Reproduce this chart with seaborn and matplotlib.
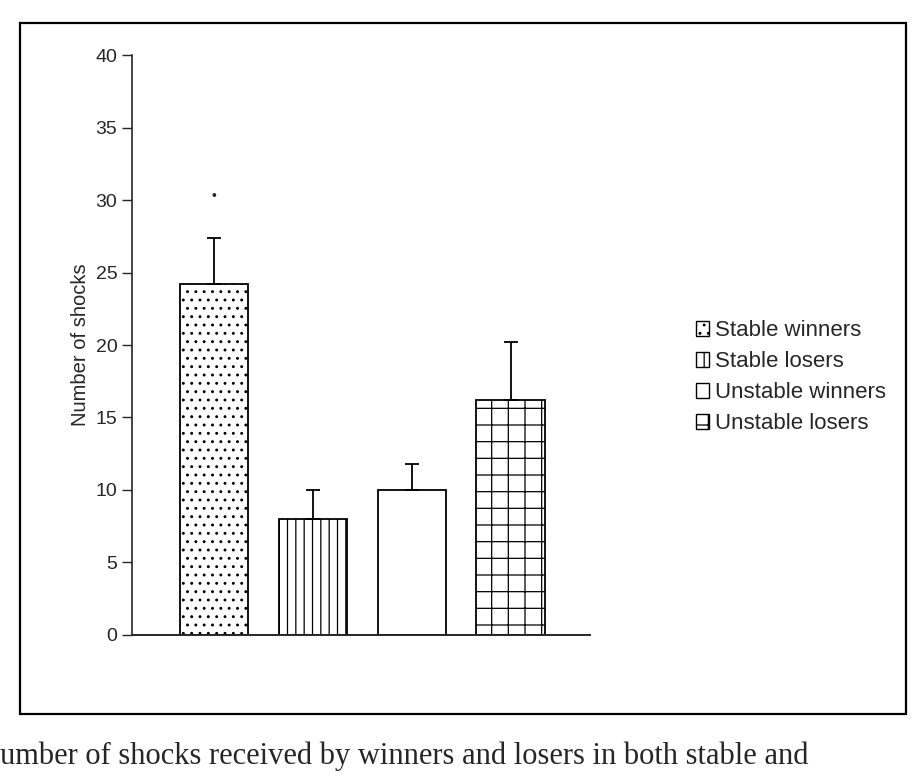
import matplotlib
matplotlib.use("Agg")
import matplotlib.pyplot as plt
from matplotlib.patches import Patch, Rectangle
import seaborn as sns
import pandas as pd

# values
groups = ["Stable winners", "Stable losers", "Unstable winners", "Unstable losers"]
shocks = [24.2, 8.0, 10.0, 16.2]
sem = [3.2, 2.0, 1.8, 4.0]
hatches = ["..", "||", "", "+"]
yticks = [0, 5, 10, 15, 20, 25, 30, 35, 40]
caption = "umber of shocks received by winners and losers in both stable and"

df = pd.DataFrame({"group": groups, "shocks": shocks})

sns.set_style("ticks")
plt.rcParams["font.family"] = ["Liberation Sans", "DejaVu Sans"]
plt.rcParams["hatch.linewidth"] = 0.9

fig = plt.figure(figsize=(9.17, 7.78), dpi=100)
ax = fig.add_axes([0.144, 0.184, 0.499, 0.745])

sns.barplot(data=df, x="group", y="shocks", color="white", edgecolor="black",
            linewidth=1.3, width=0.69, errorbar=None, ax=ax)
for bar, h in zip(ax.patches, hatches):
    bar.set_hatch(h)
    bar.set_facecolor("white")

# upper error bars only
ax.errorbar(range(len(groups)), shocks, yerr=[[0] * len(sem), sem],
            fmt="none", ecolor="black", elinewidth=1.3, capsize=5, capthick=1.3)

# significance mark above first bar
ax.text(0, 30.3, "•", ha="center", va="center", fontsize=10)

ax.set_ylim(0, 40)
ax.set_xlim(-0.83, 3.8)
ax.set_yticks(yticks)
ax.set_xticks([])
ax.set_xlabel("")
ax.set_ylabel("Number of shocks", fontsize=14.5)
ax.tick_params(axis="y", labelsize=14, length=7, width=1)
sns.despine(ax=ax)
ax.spines["left"].set_linewidth(1.2)
ax.spines["bottom"].set_linewidth(1.4)

handles = [Patch(facecolor="white", edgecolor="black", hatch=h, label=g)
           for g, h in zip(groups, hatches)]
fig.legend(handles=handles, loc="center left", bbox_to_anchor=(0.737, 0.515),
           frameon=False, fontsize=16, handlelength=0.6, handleheight=0.6,
           handletextpad=0.25, labelspacing=0.45)

# page border of the scan
fig.patches.append(Rectangle((0.022, 0.082), 0.966, 0.888, transform=fig.transFigure,
                             fill=False, edgecolor="black", linewidth=1.6))
fig.text(0.0, 0.028, caption, fontsize=22, family=["Liberation Serif", "DejaVu Serif"],
         ha="left", va="center")

fig.savefig("out.png", dpi=100)
